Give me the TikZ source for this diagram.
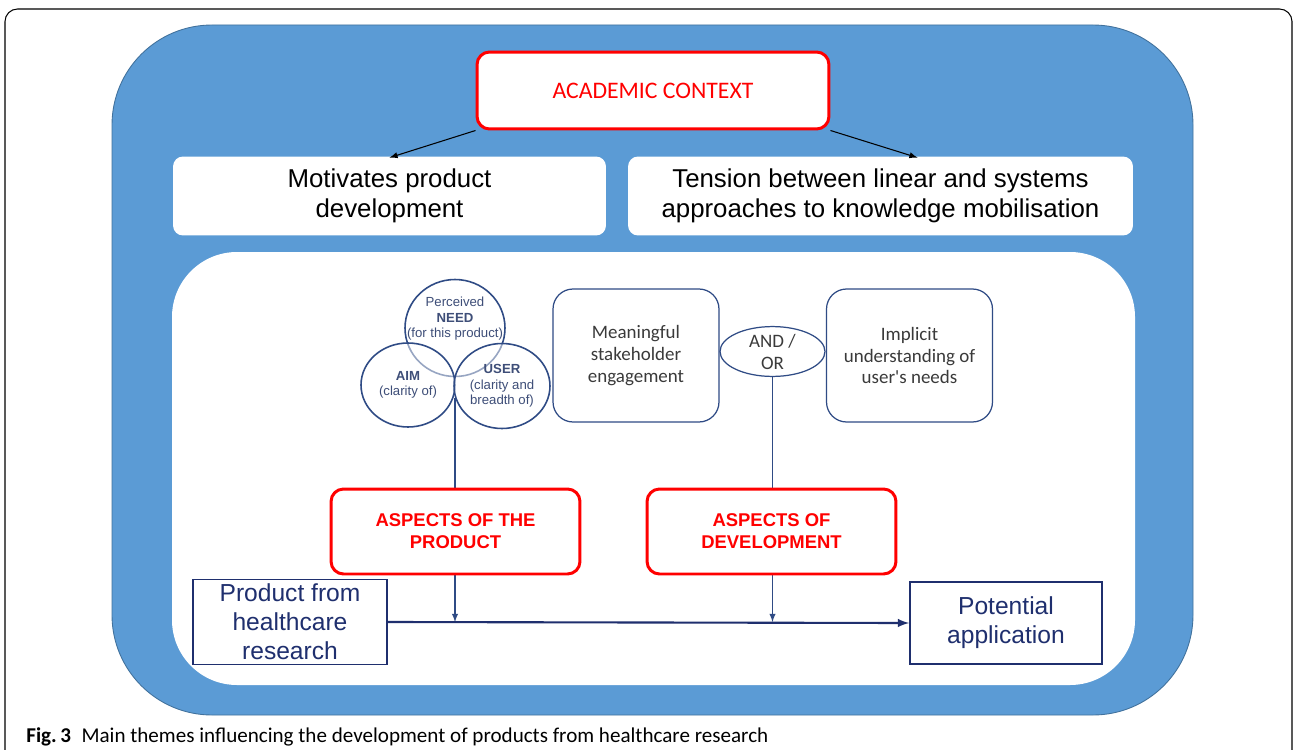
\documentclass[tikz,border=0pt]{standalone}
\usepackage{fontspec}
\setmainfont{Liberation Sans}
\newfontfamily\calibri{Carlito}
\usepackage{tikz}
\usetikzlibrary{shapes,arrows,positioning,calc}
\usepackage{xcolor}
\definecolor{panelblue}{HTML}{5B9BD5}
\definecolor{paneledge}{HTML}{41719C}
\definecolor{navy}{HTML}{1F2F6E}
\definecolor{linkblue}{HTML}{2F4B85}
\definecolor{slate}{HTML}{3E4E78}
\definecolor{softgrey}{HTML}{3A3A3A}

\begin{document}
\begin{tikzpicture}[x=0.02cm, y=-0.02cm,
    redbox/.style={draw=red, line width=1.7pt, fill=white, rounded corners=0.25cm, text=red, align=center, inner sep=0pt},
    whitebox/.style={fill=white, rounded corners=0.2cm, align=center, inner sep=0pt, minimum height=1.58cm, font=\fontsize{14.7}{17}\selectfont},
    venn/.style={ellipse, draw=linkblue, line width=0.9pt, fill=white, fill opacity=0.5, text opacity=1, text=slate, align=center, inner sep=0pt, font=\fontsize{7.5}{8.8}\selectfont},
    themebox/.style={draw=linkblue, line width=0.7pt, rounded corners=0.4cm, minimum width=3.32cm, minimum height=2.66cm, align=center, text=softgrey, font=\calibri\fontsize{10.8}{12.5}\selectfont},
    endbox/.style={draw=navy, line width=1.1pt, fill=white, text=navy, align=center, inner sep=0pt, font=\fontsize{14}{16.5}\selectfont},
    feed/.style={draw=linkblue, line width=0.6pt, -latex},
]
\useasboundingbox (0,0) rectangle (1295,750);

% frame and panels
\draw[line width=0.6pt, rounded corners=0.25cm] (5,780) -- (5,9) -- (1292,9) -- (1292,780);
\draw[fill=panelblue, draw=paneledge, line width=0.5pt, rounded corners=2cm] (112,25) rectangle (1193,715);
\fill[white, rounded corners=1.3cm] (172,252) rectangle (1135,685);

% top part
\node[redbox, minimum width=7.04cm, minimum height=1.54cm, font=\calibri\fontsize{13.5}{15}\selectfont] (academic) at (653,90.5) {ACADEMIC CONTEXT};
\node[whitebox, minimum width=8.66cm] (motivates) at (389.5,196) {Motivates product\\development};
\node[whitebox, minimum width=10.1cm] (tension) at (880.5,196) {Tension between linear and systems\\approaches to knowledge mobilisation};
\draw[-latex, line width=0.6pt] (academic.south west) -- ($(motivates.north)+(0,1.5)$);
\draw[-latex, line width=0.6pt] (academic.south east) -- ($(tension.north)+(37,1.5)$);

% product circles
\node[venn, minimum width=2cm, minimum height=1.94cm, label={[text=slate, align=center, font=\fontsize{7.5}{8.8}\selectfont, yshift=0.18cm]center:Perceived\\\textbf{NEED}\\(for this product)}] (need) at (455,328) {};
\node[venn, minimum width=1.88cm, minimum height=1.68cm] (aim) at (408,385) {\textbf{AIM}\\(clarity of)};
\node[venn, minimum width=1.92cm, minimum height=1.7cm] (user) at (502,386) {\textbf{USER}\\(clarity and\\breadth of)};

% development
\node[themebox] (engage) at (636,355.5) {Meaningful\\stakeholder\\engagement};
\node[ellipse, draw=linkblue, line width=0.7pt, minimum width=2.1cm, minimum height=0.98cm, inner sep=0pt, align=center, text=softgrey, font=\calibri\fontsize{10.8}{12.5}\selectfont] (andor) at (772.5,351.5) {AND /\\OR};
\node[themebox] (implicit) at (909.5,355.5) {Implicit\\understanding of\\user's needs};

% flow along the bottom
\node[endbox, minimum width=3.88cm, minimum height=1.7cm] (product) at (290,622) {Product from\\healthcare\\research};
\node[endbox, minimum width=3.84cm, minimum height=1.64cm] (potential) at (1006,623) {Potential\\application};
\coordinate (needbase) at (455,398);
\draw[feed] (needbase) -- (needbase |- product.east);
\draw[feed] (andor.south) -- (andor.south |- product.east);
\draw[draw=navy, line width=1.2pt, -latex] (product.east) -- (potential.west);

\node[redbox, minimum width=4.98cm, minimum height=1.7cm, font=\bfseries\fontsize{10.5}{12.6}\selectfont] (aspprod) at (455.5,531.5) {ASPECTS OF THE\\PRODUCT};
\node[redbox, minimum width=4.98cm, minimum height=1.7cm, font=\bfseries\fontsize{10.5}{12.6}\selectfont] (aspdev) at (771.5,531.5) {ASPECTS OF\\DEVELOPMENT};

\node[anchor=base west, inner sep=0pt, font=\calibri\fontsize{12}{14}\selectfont] (caption) at (26,742) {\textbf{Fig.\,3}\enspace Main themes influencing the development of products from healthcare research};
\end{tikzpicture}
\end{document}
